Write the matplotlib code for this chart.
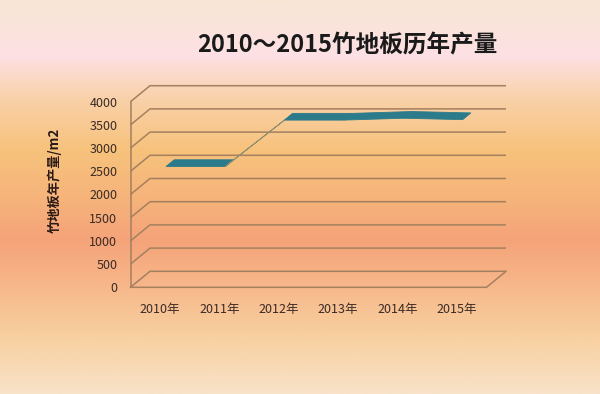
import numpy as np
import matplotlib
matplotlib.use("Agg")
import matplotlib.pyplot as plt
from matplotlib.colors import LinearSegmentedColormap
from matplotlib.patches import Polygon

plt.rcParams['font.family'] = ['Noto Sans CJK SC', 'DejaVu Sans']

# ---- data ----
years = ["2010年", "2011年", "2012年", "2013年", "2014年", "2015年"]
output = [2500, 2500, 3500, 3500, 3540, 3510]
yticks = [0, 500, 1000, 1500, 2000, 2500, 3000, 3500, 4000]
title = "2010～2015竹地板历年产量"
ylabel = "竹地板年产量/m2"

W, H = 600, 394
fig = plt.figure(figsize=(W / 100, H / 100), dpi=100)

# background gradient
bg = fig.add_axes([0, 0, 1, 1], zorder=0)
stops = [(0.00, "#f8e6d6"), (0.08, "#fbe3dd"), (0.14, "#fde0e4"),
         (0.25, "#f9d1a9"), (0.38, "#f7c27c"), (0.50, "#f6b47b"),
         (0.61, "#f5a379"), (0.72, "#f7b689"), (0.85, "#f8cf9f"),
         (1.00, "#f8e2c8")]
cmap = LinearSegmentedColormap.from_list("bg", stops)
grad = np.linspace(0, 1, 400).reshape(-1, 1)
bg.imshow(grad, aspect="auto", cmap=cmap, extent=[0, 1, 0, 1], origin="upper")
bg.axis("off")

# main axes (front plane)
left_px, right_px, bottom_px, top_px = 130.5, 486.5, 287.3, 101.7
ax = fig.add_axes([left_px / W, (H - bottom_px) / H,
                   (right_px - left_px) / W, (bottom_px - top_px) / H], zorder=1)
ax.patch.set_alpha(0)
x = np.arange(len(years))
ax.set_xlim(-0.5, len(years) - 0.5)
ax.set_ylim(0, 4000)
for s in ax.spines.values():
    s.set_visible(False)

# depth offset (pixels) converted to data units
DEPTH_PX = np.array([19.5, 16.0])
inv = ax.transData.inverted()
p0 = ax.transData.transform((0, 0))
DX, DY = inv.transform(p0 + DEPTH_PX) - np.array([0, 0])

x0, x1 = ax.get_xlim()
gc = "#a4805f"
lw = 1.1
for v in yticks:
    ax.plot([x0, x0 + DX, x1 + DX], [v, v + DY, v + DY], color=gc, lw=lw,
            clip_on=False, solid_capstyle="butt")
ax.plot([x0, x0], [0, 4000], color=gc, lw=lw, clip_on=False)
ax.plot([x0, x1, x1 + DX], [0, 0, DY], color=gc, lw=lw, clip_on=False)

# ribbon (3D line)
f1, f2 = 0.30, 0.72
for i in range(len(x) - 1):
    xa, xb = x[i], x[i + 1]
    ya, yb = output[i], output[i + 1]
    pts = [(xa + f1 * DX, ya + f1 * DY), (xb + f1 * DX, yb + f1 * DY),
           (xb + f2 * DX, yb + f2 * DY), (xa + f2 * DX, ya + f2 * DY)]
    steep = abs(yb - ya) > 300
    fc = "#8e8c6c" if steep else "#2c7b8b"
    ax.add_patch(Polygon(pts, closed=True, facecolor=fc, edgecolor=fc,
                         lw=0.6, clip_on=False, zorder=3))

ax.set_yticks(yticks)
ax.set_yticklabels([str(v) for v in yticks])
ax.set_xticks(x)
ax.set_xticklabels(years)
ax.tick_params(axis="y", length=0, pad=9.5, labelsize=9, labelcolor="#3a2a25")
ax.tick_params(axis="x", length=0, pad=11, labelsize=9, labelcolor="#3a2a25")

fig.text(55 / W, 1 - 180 / H, ylabel, rotation=90, ha="center", va="center",
         fontsize=9.5, fontweight="bold", color="#2a1a15")
fig.text(347 / W, 1 - 45 / H, title, ha="center", va="center",
         fontsize=17, fontweight="bold", color="#1a1a1a")

fig.savefig("out.png", dpi=100)
